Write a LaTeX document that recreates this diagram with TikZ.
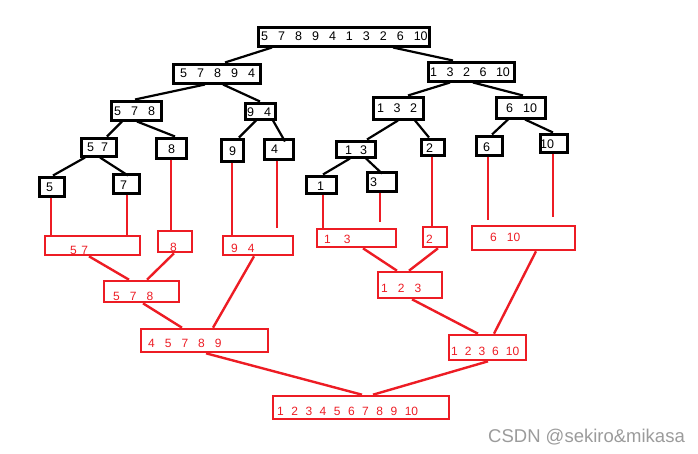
\documentclass[tikz,border=0pt]{standalone}
\usepackage{fontspec}
\setmainfont{Liberation Sans}
\usetikzlibrary{fit}
\definecolor{pred}{RGB}{237,28,36}
\definecolor{wmark}{RGB}{155,155,155}
\begin{document}
\begin{tikzpicture}[x=1pt,y=-1pt,
  bbox/.style={draw=black, line width=3pt, inner sep=0pt},
  rbox/.style={draw=pred, line width=2.6pt, inner sep=0pt},
  numgap/.style={execute at begin node={\spaceskip=#1\relax}},
  btxt/.style={anchor=west, inner sep=0pt, text=black, font=\fontsize{12.5}{14}\selectfont},
  rtxt/.style={anchor=west, inner sep=0pt, text=pred, font=\fontsize{12}{14}\selectfont},
  bedge/.style={draw=black, line width=2.2pt},
  redge/.style={draw=pred, line width=2.4pt}]
\useasboundingbox (0,0) rectangle (698,453);

% ---------- black split tree ----------
\node[bbox, fit={(258,27) (429,46)}] (root) {};
\node[bbox, fit={(173,64) (260,83)}] (L1) {};
\node[bbox, fit={(428,62) (514,81)}] (R1) {};
\node[bbox, fit={(111,101) (161,120)}] (b578) {};
\node[bbox, fit={(245,103) (275,119)}] (b94) {};
\node[bbox, fit={(373,97) (423,119)}] (b132) {};
\node[bbox, fit={(496,97) (545,118)}] (b610) {};
\node[bbox, fit={(81,138) (116,156)}] (b57) {};
\node[bbox, fit={(156,138) (186,158)}] (b8) {};
\node[bbox, fit={(221,139) (243,161)}] (b9) {};
\node[bbox, fit={(264,139) (293,159)}] (b4) {};
\node[bbox, fit={(39,177) (64,196)}] (b5) {};
\node[bbox, fit={(113,174) (139,193)}] (b7) {};
\node[bbox, fit={(336,141) (375,157)}] (b13) {};
\node[bbox, fit={(421,139) (444,155)}] (b2) {};
\node[bbox, fit={(476,136) (502,155)}] (b6) {};
\node[bbox, fit={(540,134) (567,152)}] (b10) {};
\node[bbox, fit={(306,176) (336,193)}] (b1) {};
\node[bbox, fit={(367,172) (396,191)}] (b3) {};

\node[btxt, numgap=10pt] (troot) at (261,36.5) {5 7 8 9 4 1 3 2 6 10};
\node[btxt, numgap=10pt] (tL1) at (180,73.5) {5 7 8 9 4};
\node[btxt, numgap=9.5pt] (tR1) at (430,72) {1 3 2 6 10};
\node[btxt, numgap=10pt] (t578) at (114,111) {5 7 8};
\node[btxt, numgap=10pt] (t94) at (247,112) {9 4};
\node[btxt, numgap=9.5pt] (t132) at (377,108.5) {1 3 2};
\node[btxt, numgap=10pt] (t610) at (506,108) {6 10};
\node[btxt, numgap=7pt] (t57) at (87,147) {5 7};
\node[btxt] (t8) at (168,149) {8};
\node[btxt] (t9) at (229,151) {9};
\node[btxt] (t4) at (271,149) {4};
\node[btxt] (t5) at (46,187.5) {5};
\node[btxt] (t7) at (120,185) {7};
\node[btxt, numgap=8pt] (t13) at (345,150) {1 3};
\node[btxt] (t2) at (426,148) {2};
\node[btxt] (t6) at (483,147) {6};
\node[btxt] (t10) at (540,144) {10};
\node[btxt] (t1) at (317,186) {1};
\node[btxt] (t3) at (370,182.5) {3};

\draw[bedge] ([xshift=-71.5pt]root.south) -- ([xshift=8.5pt]L1.north);
\draw[bedge] ([xshift=49.5pt]root.south) -- ([xshift=-18pt]R1.north);
\draw[bedge] ([xshift=-11.5pt]L1.south) -- ([xshift=-1pt]b578.north);
\draw[bedge] ([xshift=6.5pt]L1.south) -- (b94.north);
\draw[bedge] ([xshift=-21pt]R1.south) -- ([xshift=10pt]b132.north);
\draw[bedge] ([xshift=2pt]R1.south) -- ([xshift=2.5pt]b610.north);
\draw[bedge] ([xshift=-14pt]b578.south) -- ([xshift=8.5pt]b57.north);
\draw[bedge] ([xshift=1pt]b578.south) -- ([xshift=4pt]b8.north);
\draw[bedge] ([xshift=-4pt]b94.south) -- ([xshift=7pt]b9.north);
\draw[bedge] ([xshift=13pt]b94.south) -- ([xshift=6.5pt,yshift=-4pt]b4.north);
\draw[bedge] ([xshift=-13.5pt]b57.south) -- ([xshift=1.5pt]b5.north);
\draw[bedge] ([xshift=1.5pt]b57.south) -- ([xshift=2pt,yshift=-3pt]b7.north);
\draw[bedge] (b132.south) -- ([xshift=11.5pt]b13.north);
\draw[bedge] ([xshift=17pt]b132.south) -- ([xshift=-3.5pt]b2.north);
\draw[bedge] ([xshift=-12.5pt]b610.south) -- ([xshift=3pt]b6.north);
\draw[bedge] ([xshift=4.5pt]b610.south) -- ([xshift=-0.5pt]b10.north);
\draw[bedge] ([xshift=-5.5pt]b13.south) -- ([xshift=2pt]b1.north);
\draw[bedge] ([xshift=10.5pt]b13.south) -- ([xshift=0.5pt,yshift=-3pt]b3.north);

% ---------- red merge tree ----------
\node[rbox, fit={(45,236) (140,255)}] (r57) {};
\node[rbox, fit={(158,231) (192,252)}] (r8) {};
\node[rbox, fit={(223,236) (293,255)}] (r94) {};
\node[rbox, fit={(104,281) (179,302)}] (r578) {};
\node[rbox, fit={(141,329) (268,352)}] (r45789) {};
\node[rbox, fit={(317,229) (396,247)}] (r13) {};
\node[rbox, fit={(423,227) (447,247)}] (r2) {};
\node[rbox, fit={(472,226) (575,250)}] (r610) {};
\node[rbox, fit={(378,272) (442,298)}] (r123) {};
\node[rbox, fit={(449,335) (526,360)}] (r123610) {};
\node[rbox, fit={(273,396) (449,419)}] (rall) {};

\node[rtxt, numgap=4.5pt] (s57) at (70,250) {5 7};
\node[rtxt] (s8) at (170,247.5) {8};
\node[rtxt, numgap=10pt] (s94) at (231,248) {9 4};
\node[rtxt, numgap=10pt] (s578) at (113,296.5) {5 7 8};
\node[rtxt, numgap=10pt] (s45789) at (148,343.5) {4 5 7 8 9};
\node[rtxt, numgap=13pt] (s13) at (324,239) {1 3};
\node[rtxt] (s2) at (426,239) {2};
\node[rtxt, numgap=10pt] (s610) at (490,237) {6 10};
\node[rtxt, numgap=10pt] (s123) at (381,288) {1 2 3};
\node[rtxt, numgap=7pt] (s123610) at (451,351.5) {1 2 3 6 10};
\node[rtxt, numgap=7.5pt] (sall) at (277,411.5) {1 2 3 4 5 6 7 8 9 10};

\draw[redge] ([xshift=-0.5pt]b5.south) -- ([xshift=-41.5pt]r57.north);
\draw[redge] ([xshift=1pt]b7.south) -- ([xshift=34.5pt]r57.north);
\draw[redge] (b8.south) -- ([xshift=-4pt]r8.north);
\draw[redge] (b9.south) -- ([xshift=-26pt]r94.north);
\draw[redge] ([xshift=-1.5pt]b4.south) -- ([xshift=19pt,yshift=7pt]r94.north);
\draw[redge] ([xshift=2pt]b1.south) -- ([xshift=-33.5pt]r13.north);
\draw[redge] ([xshift=-1.5pt]b3.south) -- ([xshift=23.5pt,yshift=6pt]r13.north);
\draw[redge] ([xshift=-0.5pt]b2.south) -- ([xshift=-3pt]r2.north);
\draw[redge] ([xshift=-1pt]b6.south) -- ([xshift=-35.5pt,yshift=5pt]r610.north);
\draw[redge] ([xshift=-0.5pt]b10.south) -- ([xshift=29.5pt,yshift=8pt]r610.north);

\draw[redge] ([xshift=-3.5pt]r57.south) -- ([xshift=-12.5pt]r578.north);
\draw[redge] ([xshift=-1pt]r8.south) -- ([xshift=5.5pt]r578.north);
\draw[redge] ([xshift=1.5pt]r578.south) -- ([xshift=-22.5pt]r45789.north);
\draw[redge] ([xshift=-4pt]r94.south) -- ([xshift=8.5pt]r45789.north);
\draw[redge] ([xshift=6.5pt]r13.south) -- ([xshift=-13pt]r123.north);
\draw[redge] ([xshift=3pt]r2.south) -- ([xshift=-1pt]r123.north);
\draw[redge] ([xshift=2pt]r123.south) -- ([xshift=-9.5pt]r123610.north);
\draw[redge] ([xshift=12.5pt]r610.south) -- ([xshift=6.5pt]r123610.north);
\draw[redge] ([xshift=1.5pt]r45789.south) -- ([xshift=1pt]rall.north);
\draw[redge] ([xshift=0.5pt]r123610.south) -- ([xshift=12pt]rall.north);

\node[anchor=west, inner sep=0pt, text=wmark, font=\fontsize{18.5}{20}\selectfont] (wm) at (488,437) {CSDN @sekiro\&mikasa};
\end{tikzpicture}
\end{document}
